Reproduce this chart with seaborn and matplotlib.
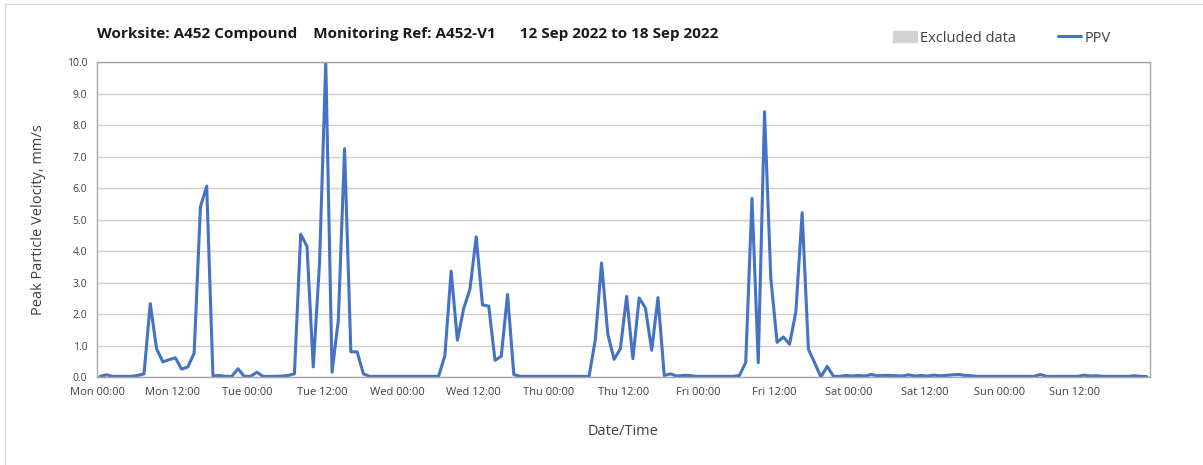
import numpy as np
import pandas as pd
import matplotlib
matplotlib.use("Agg")
import matplotlib.pyplot as plt
import matplotlib.patches as mpatches
from matplotlib.lines import Line2D
import seaborn as sns

# hourly peak values (mm/s), one list per day, Mon 12 Sep to Sun 18 Sep 2022
mon = [0.02, 0.07, 0.02, 0.02, 0.02, 0.02, 0.05, 0.10, 2.33, 0.90, 0.48, 0.55,
       0.61, 0.25, 0.32, 0.76, 5.40, 6.06, 0.03, 0.05, 0.02, 0.02, 0.26, 0.02]
tue = [0.02, 0.15, 0.02, 0.02, 0.02, 0.03, 0.05, 0.10, 4.53, 4.15, 0.32, 3.60,
       10.0, 0.15, 1.80, 7.25, 0.80, 0.80, 0.10, 0.02, 0.02, 0.02, 0.02, 0.02]
wed = [0.02, 0.02, 0.02, 0.02, 0.02, 0.02, 0.02, 0.68, 3.36, 1.17, 2.17, 2.79,
       4.45, 2.29, 2.25, 0.53, 0.66, 2.62, 0.08, 0.02, 0.02, 0.02, 0.02, 0.02]
thu = [0.02, 0.02, 0.02, 0.02, 0.02, 0.02, 0.02, 1.18, 3.62, 1.35, 0.56, 0.90,
       2.56, 0.58, 2.51, 2.19, 0.85, 2.52, 0.05, 0.10, 0.03, 0.05, 0.05, 0.02]
fri = [0.02, 0.02, 0.02, 0.02, 0.02, 0.02, 0.05, 0.46, 5.67, 0.45, 8.42, 3.15,
       1.10, 1.27, 1.04, 2.07, 5.22, 0.88, 0.45, 0.00, 0.34, 0.02, 0.02, 0.05]
sat = [0.03, 0.05, 0.03, 0.08, 0.04, 0.05, 0.05, 0.04, 0.03, 0.07, 0.03, 0.05,
       0.03, 0.06, 0.04, 0.05, 0.07, 0.08, 0.05, 0.04, 0.02, 0.02, 0.02, 0.02]
sun = [0.02, 0.02, 0.02, 0.02, 0.02, 0.02, 0.08, 0.02, 0.02, 0.02, 0.02, 0.02,
       0.02, 0.06, 0.03, 0.04, 0.02, 0.02, 0.02, 0.02, 0.02, 0.04, 0.02, 0.01]

day_names = ["Mon", "Tue", "Wed", "Thu", "Fri", "Sat", "Sun"]
tick_labels = [f"{d} {t}" for d in day_names for t in ["00:00", "12:00"]] + [""]
y_ticks = [0, 1, 2, 3, 4, 5, 6, 7, 8, 9, 10]

ppv = mon + tue + wed + thu + fri + sat + sun
# readings sit mid-hour
df = pd.DataFrame({"hour": np.arange(len(ppv)) + 0.5, "PPV": ppv})

sns.set_style("white")
plt.rcParams["font.family"] = ["Open Sans", "DejaVu Sans"]

blue = "#4472C4"
fig = plt.figure(figsize=(12.03, 4.65), dpi=100)
ax = fig.add_axes([97 / 1203, 1 - 377 / 465, (1150 - 97) / 1203, (377 - 62) / 465])

sns.lineplot(data=df, x="hour", y="PPV", ax=ax, color=blue, linewidth=2.2)

ax.set_xlim(0, 168)
ax.set_ylim(0, 10)
ax.set_xticks(np.arange(0, 169, 12))
ax.set_xticklabels(tick_labels, fontsize=8, color="#404040")
ax.set_xticks(np.arange(0, 169, 24), minor=True)
ax.set_yticks(y_ticks)
ax.set_yticklabels([f"{v:.1f}" for v in y_ticks], fontsize=7.5, color="#404040")

ax.tick_params(axis="both", which="major", direction="out", length=4, width=1,
               color="#a6a6a6", pad=3)
ax.tick_params(axis="x", which="minor", length=0)
ax.grid(axis="y", which="major", color="#d0d0d0", linewidth=1)
ax.grid(axis="x", which="minor", color="#e0e0e0", linewidth=1)
ax.grid(axis="x", which="major", visible=False)
for s in ax.spines.values():
    s.set_color("#a6a6a6")
    s.set_linewidth(1)

ax.set_xlabel("Date/Time", fontsize=10.5, color="#404040", labelpad=19)
ax.set_ylabel("Peak Particle Velocity, mm/s", fontsize=10.5, color="#404040", labelpad=15)

fig.text(97 / 1203, 1 - 34 / 465,
         "Worksite: A452 Compound    Monitoring Ref: A452-V1      12 Sep 2022 to 18 Sep 2022",
         fontsize=11, fontweight="bold", va="center", ha="left", color="#1a1a1a")

handles = [mpatches.Patch(color="#d3d3d3", label="Excluded data"),
           Line2D([], [], color=blue, linewidth=2.2, label="PPV")]
fig.legend(handles=handles, loc="center", bbox_to_anchor=(1002 / 1203, 1 - 38 / 465),
           ncol=2, frameon=False, fontsize=10.5, handlelength=1.6, handletextpad=0.2,
           columnspacing=2.9, labelcolor="#404040")

# outer chart border (left and top edges visible)
fig.add_artist(Line2D([5 / 1203, 5 / 1203], [0, 1 - 4 / 465], transform=fig.transFigure,
                      color="#d9d9d9", linewidth=1))
fig.add_artist(Line2D([5 / 1203, 1], [1 - 4 / 465, 1 - 4 / 465], transform=fig.transFigure,
                      color="#d9d9d9", linewidth=1))

fig.savefig("out.png", dpi=100)
